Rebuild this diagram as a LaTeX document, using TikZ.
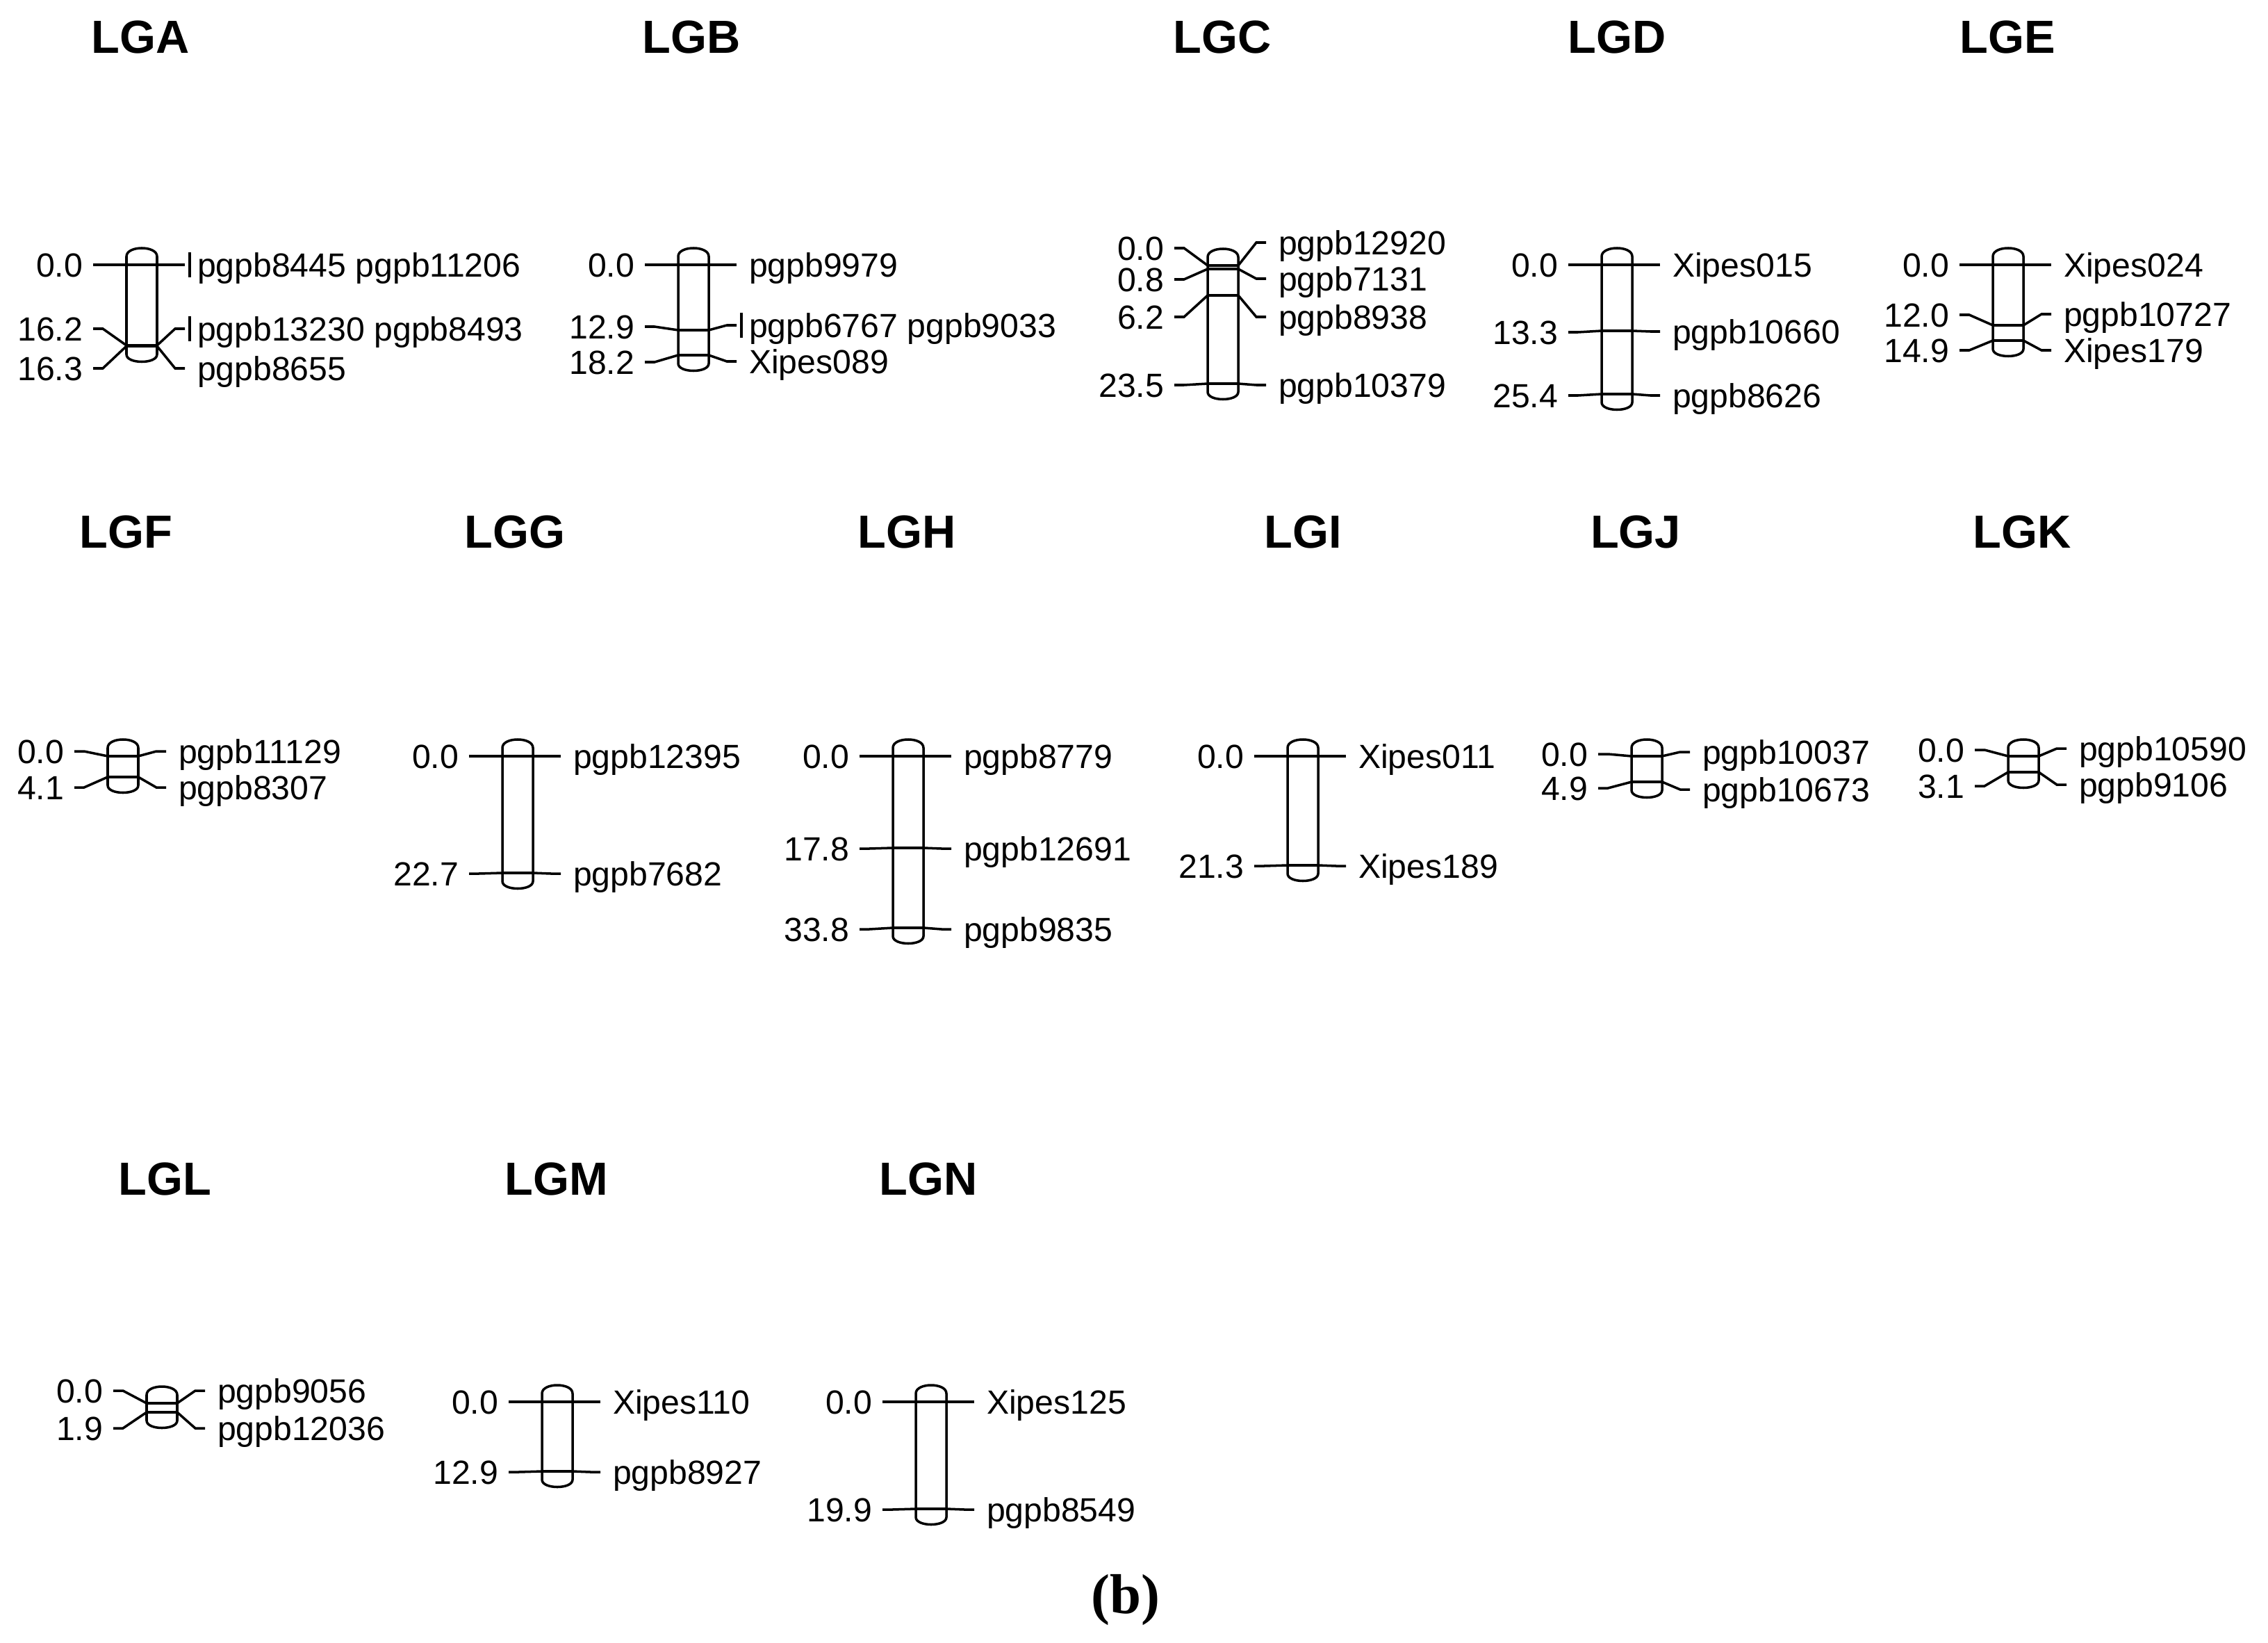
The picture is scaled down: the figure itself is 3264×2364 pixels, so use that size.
\documentclass[tikz,border=0pt]{standalone}
\usepackage{fontspec}
\setmainfont{Liberation Sans}
\newfontfamily\capfont{Liberation Serif}
\tikzset{
  chr/.style={line width=1.0pt, line cap=butt, line join=miter},
  llab/.style={anchor=east, inner xsep=0.15cm, inner ysep=0pt, outer sep=0pt,
    text height=9.8pt, text depth=0pt, font=\fontsize{13.7}{16}\selectfont},
  rlab/.style={anchor=west, inner xsep=0.18cm, inner ysep=0pt, outer sep=0pt,
    text height=9.8pt, text depth=0pt, font=\fontsize{13.7}{16}\selectfont},
  ttl/.style={inner sep=0pt, font=\fontsize{19}{22}\selectfont\bfseries},
}
% chromosome outline: name, centre x, top marker y, bottom marker y
\newcommand\chrom[4]{%
  \draw[chr] (#2-22,#3-12) -- (#2-22,#4+12)
     .. controls (#2-22,#4+26) and (#2+22,#4+26) .. (#2+22,#4+12)
     -- (#2+22,#3-12)
     .. controls (#2+22,#3-28) and (#2-22,#3-28) .. cycle;
  \coordinate (#1) at (#2,#3);}
% marker: id, cx, y, left-label y, right-label y, left text, right text
\newcommand\mk[7]{%
  \draw[chr] (#2-22,#3) -- (#2+22,#3);
  \node[llab] (#1l) at (#2-70,#4) {#6};
  \node[rlab] (#1r) at (#2+62,#5) {#7};
  \draw[chr] (#1l.east) -- ++(14,0) -- (#2-22,#3);
  \draw[chr] (#1r.west) -- ++(-14,0) -- (#2+22,#3);}
\newcommand\barmk[1]{\draw[chr] ([xshift=0.07cm]#1.west) ++(0,-18) -- ++(0,36);}
\begin{document}
\begin{tikzpicture}[x=0.01cm, y=-0.01cm]
\useasboundingbox (0,0) rectangle (3264,2364);
\fill[white] (0,0) rectangle (3264,2364);

% ---------- titles ----------
\node[ttl] (tA) at (202,54) {LGA};
\node[ttl] (tB) at (995,54) {LGB};
\node[ttl] (tC) at (1759,54) {LGC};
\node[ttl] (tD) at (2327,54) {LGD};
\node[ttl] (tE) at (2889,54) {LGE};
\node[ttl] (tF) at (181,765) {LGF};
\node[ttl] (tG) at (741,765) {LGG};
\node[ttl] (tH) at (1305,765) {LGH};
\node[ttl] (tI) at (1875,765) {LGI};
\node[ttl] (tJ) at (2354,765) {LGJ};
\node[ttl] (tK) at (2910,765) {LGK};
\node[ttl] (tL) at (237,1696) {LGL};
\node[ttl] (tM) at (801,1696) {LGM};
\node[ttl] (tN) at (1336,1696) {LGN};

% ---------- row 1 ----------
\chrom{cA}{204}{381}{498}
\mk{a1}{204}{381}{381}{381}{0.0}{pgpb8445 pgpb11206}
\mk{a2}{204}{497}{473}{473}{16.2}{pgpb13230 pgpb8493}
\mk{a3}{204}{498}{530}{530}{16.3}{pgpb8655}
\barmk{a1r}\barmk{a2r}

\chrom{cB}{998}{381}{511}
\mk{b1}{998}{381}{381}{381}{0.0}{pgpb9979}
\mk{b2}{998}{475}{470}{468}{12.9}{pgpb6767 pgpb9033}
\mk{b3}{998}{511}{521}{520}{18.2}{Xipes089}
\barmk{b2r}

\chrom{cC}{1760}{382}{552}
\mk{c1}{1760}{382}{357}{349}{0.0}{pgpb12920}
\mk{c2}{1760}{387}{402}{401}{0.8}{pgpb7131}
\mk{c3}{1760}{425}{456}{456}{6.2}{pgpb8938}
\mk{c4}{1760}{552}{554}{554}{23.5}{pgpb10379}

\chrom{cD}{2327}{381}{567}
\mk{d1}{2327}{381}{381}{381}{0.0}{Xipes015}
\mk{d2}{2327}{476}{478}{477}{13.3}{pgpb10660}
\mk{d3}{2327}{567}{569}{569}{25.4}{pgpb8626}

\chrom{cE}{2890}{381}{490}
\mk{e1}{2890}{381}{381}{381}{0.0}{Xipes024}
\mk{e2}{2890}{468}{453}{452}{12.0}{pgpb10727}
\mk{e3}{2890}{490}{504}{504}{14.9}{Xipes179}

% ---------- row 2 ----------
\chrom{cF}{177}{1088}{1118}
\mk{f1}{177}{1088}{1081}{1081}{0.0}{pgpb11129}
\mk{f2}{177}{1118}{1133}{1133}{4.1}{pgpb8307}

\chrom{cG}{745}{1088}{1256}
\mk{g1}{745}{1088}{1088}{1088}{0.0}{pgpb12395}
\mk{g2}{745}{1256}{1257}{1257}{22.7}{pgpb7682}

\chrom{cH}{1307}{1088}{1335}
\mk{h1}{1307}{1088}{1088}{1088}{0.0}{pgpb8779}
\mk{h2}{1307}{1220}{1221}{1221}{17.8}{pgpb12691}
\mk{h3}{1307}{1335}{1337}{1337}{33.8}{pgpb9835}

\chrom{cI}{1875}{1088}{1245}
\mk{i1}{1875}{1088}{1088}{1088}{0.0}{Xipes011}
\mk{i2}{1875}{1245}{1246}{1246}{21.3}{Xipes189}

\chrom{cJ}{2370}{1088}{1125}
\mk{j1}{2370}{1088}{1085}{1082}{0.0}{pgpb10037}
\mk{j2}{2370}{1125}{1134}{1136}{4.9}{pgpb10673}

\chrom{cK}{2912}{1088}{1111}
\mk{k1}{2912}{1088}{1079}{1077}{0.0}{pgpb10590}
\mk{k2}{2912}{1111}{1131}{1129}{3.1}{pgpb9106}

% ---------- row 3 ----------
\chrom{cL}{233}{2019}{2032}
\mk{l1}{233}{2019}{2001}{2001}{0.0}{pgpb9056}
\mk{l2}{233}{2032}{2055}{2055}{1.9}{pgpb12036}

\chrom{cM}{802}{2017}{2117}
\mk{m1}{802}{2017}{2017}{2017}{0.0}{Xipes110}
\mk{m2}{802}{2117}{2118}{2118}{12.9}{pgpb8927}

\chrom{cN}{1340}{2017}{2171}
\mk{n1}{1340}{2017}{2017}{2017}{0.0}{Xipes125}
\mk{n2}{1340}{2171}{2172}{2172}{19.9}{pgpb8549}

% ---------- caption ----------
\node[inner sep=0pt, font=\fontsize{23}{26}\selectfont\capfont\bfseries] (cap) at (1620,2302) {(b)};
\end{tikzpicture}
\end{document}
